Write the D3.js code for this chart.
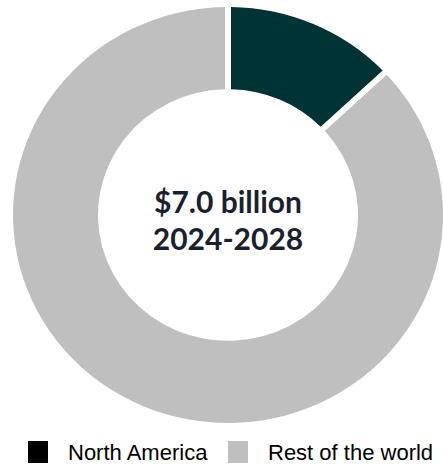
<!DOCTYPE html>
<html><head><meta charset="utf-8">
<script src="https://cdn.jsdelivr.net/npm/d3@7"></script>
<style>body{margin:0;background:#fff}svg{display:block}</style>
</head><body>
<svg id="c" width="443" height="466"></svg>
<script>
const categories = ["North America", "Rest of the world"];
const values = [13, 87];
const colors = ["#003333", "#BFBFBF"];
const legendColors = ["#000000", "#BFBFBF"];
const centerLines = ["$7.0 billion", "2024-2028"];

const svg = d3.select("#c");
const cx = 228, cy = 215, rOuter = 215, rInner = 130, sy = 208/215;

const pie = d3.pie().sort(null).value(d => d)(values);
const arc = d3.arc().innerRadius(rInner).outerRadius(rOuter)
  .padAngle(6/rOuter).padRadius(rOuter);

const g = svg.append("g").attr("transform", `translate(${cx},${cy}) scale(1,${sy})`);
g.selectAll("path").data(pie).join("path")
  .attr("d", arc).attr("fill", (d,i) => colors[i]);

const t = svg.append("g").attr("transform", `translate(${cx},0)`);
t.selectAll("text").data(centerLines).join("text")
  .attr("x", 0).attr("y", (d,i) => 213 + i*37)
  .attr("text-anchor", "middle")
  .attr("font-family", "Lato, 'Open Sans', sans-serif")
  .attr("font-weight", "bold").attr("font-size", 30)
  .attr("fill", "#1b1f2e")
  .text(d => d);

const legendX = [28, 228];
const lg = svg.selectAll("g.leg").data(categories).join("g").attr("class","leg")
  .attr("transform", (d,i) => `translate(${legendX[i]},441)`);
lg.append("rect").attr("width", 20).attr("height", 22).attr("fill", (d,i) => legendColors[i]);
lg.append("text").attr("x", 40).attr("y", 19)
  .attr("font-family", "'Liberation Sans', Arial, sans-serif").attr("font-size", 22)
  .attr("fill", "#000").text(d => d);
</script>
</body></html>
